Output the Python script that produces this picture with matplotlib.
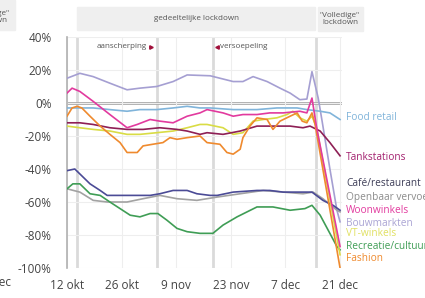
import matplotlib
matplotlib.use("Agg")
import matplotlib.pyplot as plt
from matplotlib.patches import Rectangle

plt.rcParams['font.family'] = ['Open Sans', 'DejaVu Sans']

# days since 12 okt, values in %
bouw_d = [0, 3.3, 6.7, 11, 15.4, 18.7, 23, 27.2, 30.8, 36.7, 42.6, 45.1, 47.7, 51.3, 54.6, 57.2, 59.7, 61.5, 62.8, 64.4, 65.4, 67.4, 69.2, 70]
bouw_v = [15, 18, 16, 12, 8, 9, 10, 13, 17, 16.5, 13, 13, 16, 13, 9, 6, 2, 2.4, 19, 3, -11, -40, -65, -72]

woon_d = [0, 1.3, 3.3, 6.7, 11, 15.4, 18, 21.3, 23.8, 27.2, 30.8, 34.1, 35.9, 40, 42.6, 45.1, 48.7, 52, 55.4, 59.7, 61.5, 62.8, 64, 70]
woon_v = [6, 9, 7, 1, -7, -15, -13, -10, -11, -12, -8, -6, -4, -6, -8, -7, -7, -6, -6, -5, -6, 3, -15, -87]

food_d = [0, 3.3, 6.7, 11, 15.4, 18.7, 23, 27.2, 30.8, 34.1, 36.7, 42.6, 48.7, 53.8, 59, 61.5, 64.9, 67.4, 70]
food_v = [-3, -3, -3, -4, -5, -4, -4, -3, -2, -3, -3, -4, -4, -3, -3, -4, -5, -6, -10]

tank_d = [0, 3.3, 6.7, 11, 15.4, 19.5, 23.8, 28.2, 30.8, 34.1, 35.9, 40, 44.4, 48.7, 52.8, 57.2, 60.5, 62.3, 64.9, 67.4, 70]
tank_v = [-12, -12, -13, -15, -16, -16, -15, -16, -17, -19, -18, -19, -17, -14, -14, -14, -15, -14, -17, -24, -32]

vt_d = [0, 3.3, 6.7, 11, 15.4, 18.7, 23, 27.2, 30.8, 34.1, 35.9, 40, 42.6, 45.1, 47.7, 50.3, 53.8, 56.4, 57.9, 59.7, 61.5, 62.8, 64, 70]
vt_v = [-14, -15, -16, -17, -19, -19, -18, -17, -15, -13, -13, -15, -19, -18, -11, -10, -9, -7, -5, -9, -11, -8, -15, -92]

fashion_d = [0, 1.3, 2.6, 3.8, 5.9, 8.5, 11, 13.6, 15.4, 18, 19.5, 22, 24.6, 26.4, 28.2, 30.8, 34.1, 35.9, 39.2, 41, 42.6,
             44.4, 45.1, 46.9, 48.7, 51.3, 52.8, 54.6, 57.2, 59, 60.3, 61.5, 62.8, 63.6, 70]
fashion_v = [-8, -3, -2, -3, -8, -14, -19, -24, -30, -30, -26, -25, -24, -21, -22, -21, -20, -24, -25, -30, -31,
             -28, -21, -14, -9, -10, -16, -11, -8, -6, -11, -12, -6, -13, -100]

cafe_d = [0, 2, 3.3, 5.9, 8.5, 10.3, 12.8, 17, 21.3, 23.8, 27.2, 30.8, 33.3, 36.7, 38.5, 42.6, 48.7, 52, 55.4, 59.7, 62.8, 65.6, 68.2, 70]
cafe_v = [-41, -40, -43, -49, -53, -56, -56, -56, -56, -55, -53, -53, -55, -56, -56, -54, -53, -53, -54, -54, -54, -59, -62, -65]

ov_d = [0, 3.3, 6.7, 10.3, 15.4, 19.5, 23.8, 28.2, 33.3, 38.5, 44.4, 50.3, 55.4, 60.5, 63.1, 65.6, 69.2, 70]
ov_v = [-52, -54, -59, -60, -60, -58, -56, -58, -59, -57, -55, -53, -54, -55, -54, -58, -65, -66]

recr_d = [0, 1.5, 3.3, 5.9, 8.5, 11, 13.6, 16.2, 18.7, 21.3, 23.3, 25.6, 28.2, 30.8, 34.1, 37.4, 40, 43.6, 48.7,
          52.8, 57.2, 61, 62.8, 64.9, 69.2, 70]
recr_v = [-52, -49, -49, -55, -56, -60, -64, -68, -69, -67, -67, -71, -76, -78, -79, -79, -74, -69, -63,
          -63, -65, -64, -62, -68, -87, -89]

tick_days = [0, 14, 28, 42, 56, 70]
tick_labels = ['12 okt', '26 okt', '9 nov', '23 nov', '7 dec', '21 dec']
event_days = [2.6, 23, 37.5, 63.8]

series = [
    (bouw_d, bouw_v, '#a59fd2', 'Bouwmarkten', -73),
    (food_d, food_v, '#80b4da', 'Food retail', -9),
    (ov_d, ov_v, '#a2a2a2', 'Openbaar vervoer', -57),
    (cafe_d, cafe_v, '#4b4b96', 'Café/restaurant', -49),
    (recr_d, recr_v, '#3f9d55', 'Recreatie/cultuur', -87),
    (vt_d, vt_v, '#d9dc45', 'VT-winkels', -79),
    (tank_d, tank_v, '#8e1f55', 'Tankstations', -33),
    (fashion_d, fashion_v, '#ef8a2e', 'Fashion', -94),
    (woon_d, woon_v, '#e23a9e', 'Woonwinkels', -65),
]
label_colors = {'Bouwmarkten': '#aaa4d4', 'VT-winkels': '#e0e060', 'Café/restaurant': '#3e3e58',
                'Openbaar vervoer': '#8c8c8c', 'Tankstations': '#a3206e', 'Recreatie/cultuur': '#3f9d55'}

fig = plt.figure(figsize=(4.25, 2.98), dpi=100)
ax = fig.add_axes([67 / 425, 1 - 268 / 298, 275 / 425, 231 / 298])

ax.set_xlim(0, 70.5)
ax.set_ylim(-100, 40)
ax.set_yticks(range(-100, 41, 20))
ax.set_yticklabels([f'{v}%' for v in range(-100, 41, 20)])
ax.set_xticks(tick_days)
ax.set_xticklabels(tick_labels)
ax.tick_params(length=0, labelsize=8.5, colors='#444444')
ax.tick_params(axis='y', pad=11)
ax.tick_params(axis='x', pad=8)
ax.grid(True, color='#eeeeee', lw=0.8)
for s in ['top', 'right', 'bottom']:
    ax.spines[s].set_visible(False)
ax.spines['left'].set_color('#b0b0b0')
ax.spines['left'].set_linewidth(1.2)
for d in event_days:
    ax.axvline(d, color='#dadada', lw=2, zorder=1)
ax.axhline(0, color='#a8a8a8', lw=2, zorder=1)

for d, v, c, name, ly in series:
    ax.plot(d, v, color=c, lw=1.2, zorder=3)
    ax.text(71.5, ly, name, color=label_colors.get(name, c), fontsize=7.3,
            va='center', ha='left', clip_on=False)

ax.text(20.5, 34, 'aanscherping', fontsize=5.8, color='#555555', ha='right', va='center')
ax.plot([21.5], [34], marker='>', color='#a0103a', ms=2.5)
ax.text(39.2, 34, 'versoepeling', fontsize=5.8, color='#555555', ha='left', va='center')
ax.plot([38.5], [34], marker='<', color='#a0103a', ms=2.5)

# header bands
fig.patches.append(Rectangle((77 / 425, 1 - 30 / 298), 238 / 425, 23 / 298,
                             transform=fig.transFigure, color='#efefef', zorder=0))
fig.text(196 / 425, 1 - 19 / 298, 'gedeeltelijke lockdown', fontsize=5.8, color='#555555', ha='center', va='center')
fig.patches.append(Rectangle((318 / 425, 1 - 31 / 298), 45 / 425, 24 / 298,
                             transform=fig.transFigure, color='#efefef', zorder=0))
fig.text(340 / 425, 1 - 19 / 298, '"Volledige"\nlockdown', fontsize=5.8, color='#555555',
         ha='center', va='center', linespacing=1.1)
# edge of the neighbouring chart
fig.patches.append(Rectangle((-30 / 425, 1 - 30 / 298), 45 / 425, 30 / 298,
                             transform=fig.transFigure, color='#efefef', zorder=0))
fig.text(-11 / 425, 1 - 17 / 298, '"Volledige"\nlockdown', fontsize=5.8, color='#555555',
         ha='center', va='center', linespacing=1.1)
fig.text(11 / 425, 1 - 283 / 298, '21 dec', fontsize=8.5, color='#444444', ha='right', va='center')

fig.savefig('out.png', dpi=100)
